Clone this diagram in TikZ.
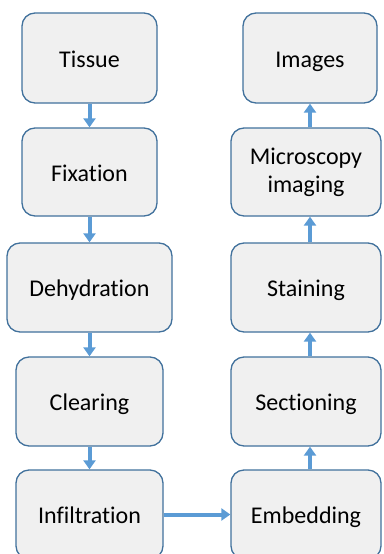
\documentclass[tikz,border=0pt]{standalone}
\usepackage{fontspec}
\setmainfont[Ligatures={NoCommon}]{Carlito}
\usetikzlibrary{arrows.meta}
\definecolor{boxfill}{HTML}{F0F0F0}
\definecolor{boxline}{HTML}{41719C}
\definecolor{flow}{HTML}{5B9BD5}
\begin{document}
\begin{tikzpicture}[x=1pt,y=-1pt,
  stage/.style={draw=boxline, line width=1.3pt, fill=boxfill, rounded corners=13pt,
    inner sep=0pt, align=center, text=black,
    font=\fontsize{24}{28}\selectfont},
  oneline/.style={text height=22pt, text depth=4pt},
  flowarrow/.style={draw=flow, line width=4pt,
    -{Triangle[width=12pt,length=9pt]}}]
  \useasboundingbox (0,0) rectangle (383,554);
  % left column
  \node[stage, oneline, minimum width=135pt, minimum height=90pt] (tissue) at (89.5,58) {Tissue};
  \node[stage, oneline, minimum width=135pt, minimum height=88pt] (fix) at (89.5,172) {Fixation};
  \node[stage, oneline, minimum width=165pt, minimum height=89pt] (dehyd) at (89.5,287.5) {Dehydration};
  \node[stage, oneline, minimum width=147pt, minimum height=89pt] (clear) at (89.5,401.5) {Clearing};
  \node[stage, oneline, minimum width=147pt, minimum height=89pt] (infil) at (89.5,514.5) {Infiltration};
  % right column
  \node[stage, oneline, minimum width=134pt, minimum height=90pt] (images) at (310,58) {Images};
  \node[stage, minimum width=150pt, minimum height=88pt] (micro) at (306,172) {Microscopy\\imaging};
  \node[stage, oneline, minimum width=150pt, minimum height=89pt] (stain) at (306,287.5) {Staining};
  \node[stage, oneline, minimum width=150pt, minimum height=89pt] (section) at (306,401.5) {Sectioning};
  \node[stage, oneline, minimum width=150pt, minimum height=89pt] (embed) at (306,514.5) {Embedding};
  % flow down the left column
  \draw[flowarrow] (tissue.south) -- (fix.north);
  \draw[flowarrow] (fix.south) -- (dehyd.north);
  \draw[flowarrow] (dehyd.south) -- (clear.north);
  \draw[flowarrow] (clear.south) -- (infil.north);
  % across to the right column
  \draw[flowarrow] (infil.east) -- (embed.west);
  % flow up the right column
  \draw[flowarrow] (embed.north -| images.center) -- (section.south -| images.center);
  \draw[flowarrow] (section.north -| images.center) -- (stain.south -| images.center);
  \draw[flowarrow] (stain.north -| images.center) -- (micro.south -| images.center);
  \draw[flowarrow] (micro.north -| images.center) -- (images.south);
\end{tikzpicture}
\end{document}
